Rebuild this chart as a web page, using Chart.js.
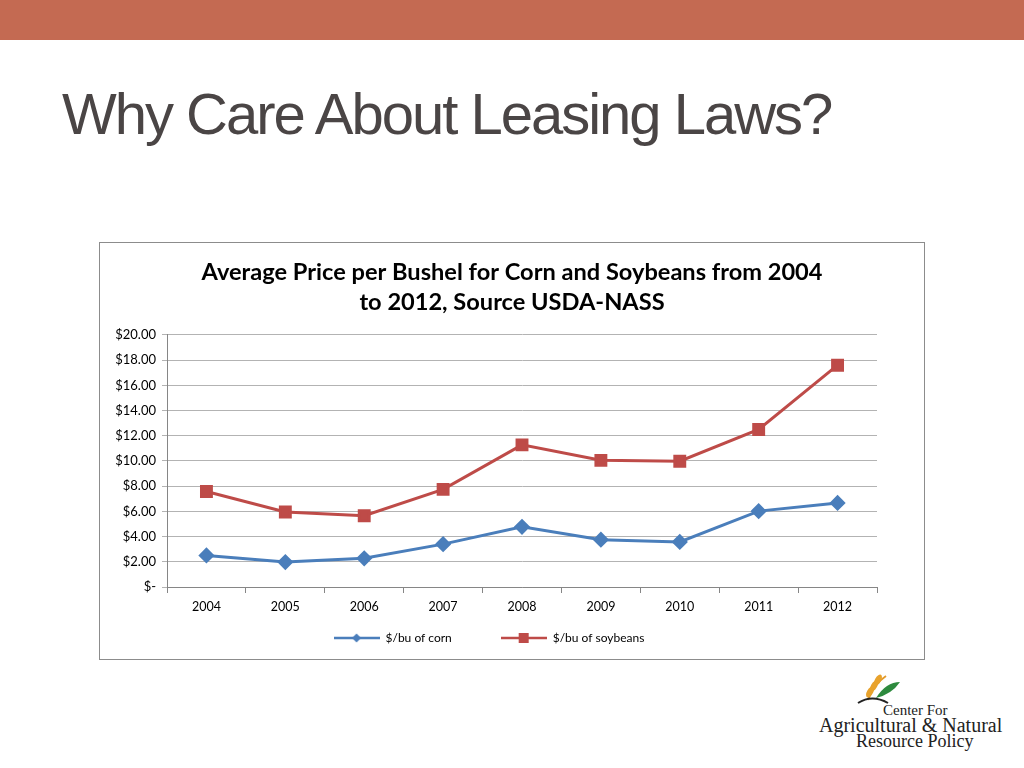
<!DOCTYPE html>
<html>
<head>
<meta charset="utf-8">
<script src="https://cdn.jsdelivr.net/npm/chart.js@4"></script>
<style>
  html, body { margin: 0; padding: 0; background: #fff; }
  body { width: 1024px; height: 768px; position: relative; overflow: hidden; }
  .topbar { position: absolute; left: 0; top: 0; width: 1024px; height: 40px; background: #c46a52; }
  .slidetitle {
    position: absolute; left: 62px; top: 80px; margin: 0;
    font-family: "Liberation Sans", sans-serif;
    font-weight: normal; font-size: 58px; color: #4a4545; letter-spacing: -2px;
  }
  .chartbox {
    position: absolute; left: 99px; top: 242px; width: 824px; height: 416px;
    border: 1px solid #8c8c8c; background: #fff;
  }
  .logo { position: absolute; left: 812px; top: 676px; width: 200px; height: 80px; }
  .logo .t { position: absolute; font-family: "Liberation Serif", serif; color: #222; white-space: nowrap; }
</style>
</head>
<body>
<div class="topbar"></div>
<h1 class="slidetitle">Why Care About Leasing Laws?</h1>
<div class="chartbox"><canvas id="myChart1"></canvas></div>
<div class="logo">
  <svg width="80" height="34" style="position:absolute;left:40px;top:-6px">
    <path d="M16 30 Q22 14 34 6" stroke="#e39a2a" stroke-width="2" fill="none"/>
    <ellipse cx="22" cy="16" rx="3" ry="6" fill="#e8a22c" transform="rotate(30 22 16)"/>
    <ellipse cx="26" cy="10" rx="3" ry="6" fill="#e8a22c" transform="rotate(30 26 10)"/>
    <ellipse cx="18" cy="22" rx="3" ry="6" fill="#e8a22c" transform="rotate(30 18 22)"/>
    <path d="M24 28 Q34 12 48 12 Q40 24 24 28 Z" fill="#2d8a3e"/>
    <path d="M6 33 Q20 24 36 33" stroke="#222" stroke-width="2" fill="none"/>
  </svg>
  <div class="t" style="left:71px;top:26px;font-size:15px">Center For</div>
  <div class="t" style="left:7px;top:38px;font-size:20px">Agricultural &amp; Natural</div>
  <div class="t" style="left:44px;top:55px;font-size:18px">Resource Policy</div>
</div>
<script>
(() => {
    'use strict'

    // data
    const years = ['2004', '2005', '2006', '2007', '2008', '2009', '2010', '2011', '2012']
    const corn = [2.50, 1.98, 2.28, 3.40, 4.78, 3.75, 3.58, 6.02, 6.67]
    const soybeans = [7.58, 5.95, 5.65, 7.75, 11.28, 10.05, 9.98, 12.50, 17.60]
    const seriesNames = ['$/bu of corn', '$/bu of soybeans']
    const titleLines = ['Average Price per Bushel for Corn and Soybeans from 2004', 'to 2012, Source USDA-NASS']

    const blue = '#4a7ebb'
    const red = '#be4b48'
    const font = 'Lato, "Open Sans", sans-serif'

    // little line + marker picture for the legend
    function legendIcon(color, shape) {
        const c = document.createElement('canvas')
        c.width = 46
        c.height = 12
        const g = c.getContext('2d')
        g.strokeStyle = color
        g.lineWidth = 2.5
        g.beginPath()
        g.moveTo(0, 6)
        g.lineTo(46, 6)
        g.stroke()
        g.fillStyle = color
        if (shape === 'diamond') {
            g.beginPath()
            g.moveTo(23, 1.5)
            g.lineTo(27.5, 6)
            g.lineTo(23, 10.5)
            g.lineTo(18.5, 6)
            g.closePath()
            g.fill()
        } else {
            g.fillRect(18, 1, 10, 10)
        }
        return c
    }

    const ctx = document.getElementById('myChart1')

    new Chart(ctx, {
        type: 'line',
        data: {
            labels: years,
            datasets: [{
                label: seriesNames[0],
                data: corn,
                borderColor: blue,
                backgroundColor: blue,
                borderWidth: 3,
                pointStyle: 'rectRot',
                pointRadius: 6,
                pointHoverRadius: 6,
                tension: 0
            }, {
                label: seriesNames[1],
                data: soybeans,
                borderColor: red,
                backgroundColor: red,
                borderWidth: 3,
                pointStyle: 'rect',
                pointRadius: 7,
                pointHoverRadius: 7,
                tension: 0
            }]
        },
        options: {
            responsive: true,
            maintainAspectRatio: false,
            animation: false,
            layout: {
                padding: { left: 0, right: 0, top: 0, bottom: 5 }
            },
            plugins: {
                title: {
                    display: true,
                    text: titleLines,
                    color: '#000',
                    font: { family: font, size: 23.6, weight: 'bold', lineHeight: 1.27 },
                    padding: { top: 14, bottom: 18 }
                },
                legend: {
                    position: 'bottom',
                    labels: {
                        usePointStyle: true,
                        pointStyleWidth: 46,
                        color: '#000',
                        padding: 12,
                        font: { family: font, size: 12 },
                        generateLabels: (chart) => chart.data.datasets.map((ds, i) => ({
                            // spaces widen the gap between the entries and pull the legend left
                            text: ds.label + (i === 0 ? ' '.repeat(12) : ' '.repeat(15)),
                            datasetIndex: i,
                            fontColor: '#000',
                            pointStyle: legendIcon(ds.borderColor, i === 0 ? 'diamond' : 'square'),
                            lineWidth: 0,
                            strokeStyle: 'transparent',
                            fillStyle: 'transparent'
                        }))
                    }
                },
                tooltip: { enabled: false }
            },
            scales: {
                x: {
                    offset: true,
                    grid: {
                        offset: true,
                        drawOnChartArea: false,
                        drawTicks: true,
                        tickLength: 6,
                        color: '#868686'
                    },
                    border: { display: true, color: '#868686' },
                    ticks: {
                        color: '#000',
                        padding: 6,
                        font: { family: font, size: 12.5 },
                        maxRotation: 0
                    }
                },
                y: {
                    min: 0,
                    max: 20,
                    afterFit: (scale) => { scale.width = 67 },
                    grid: {
                        color: '#b3b3b3',
                        tickLength: 5,
                        drawTicks: true
                    },
                    border: { display: true, color: '#868686' },
                    ticks: {
                        stepSize: 2,
                        color: '#000',
                        padding: 6,
                        font: { family: font, size: 13 },
                        callback: (v) => v === 0 ? '$-' : '$' + v.toFixed(2)
                    }
                },
                // empty right-hand axis: keeps the plot's right margin without shifting the title
                yRight: {
                    position: 'right',
                    min: 0,
                    max: 20,
                    afterFit: (scale) => { scale.width = 47 },
                    grid: { display: false },
                    border: { display: false },
                    ticks: { display: false }
                }
            }
        }
    })
})()
</script>
</body>
</html>
